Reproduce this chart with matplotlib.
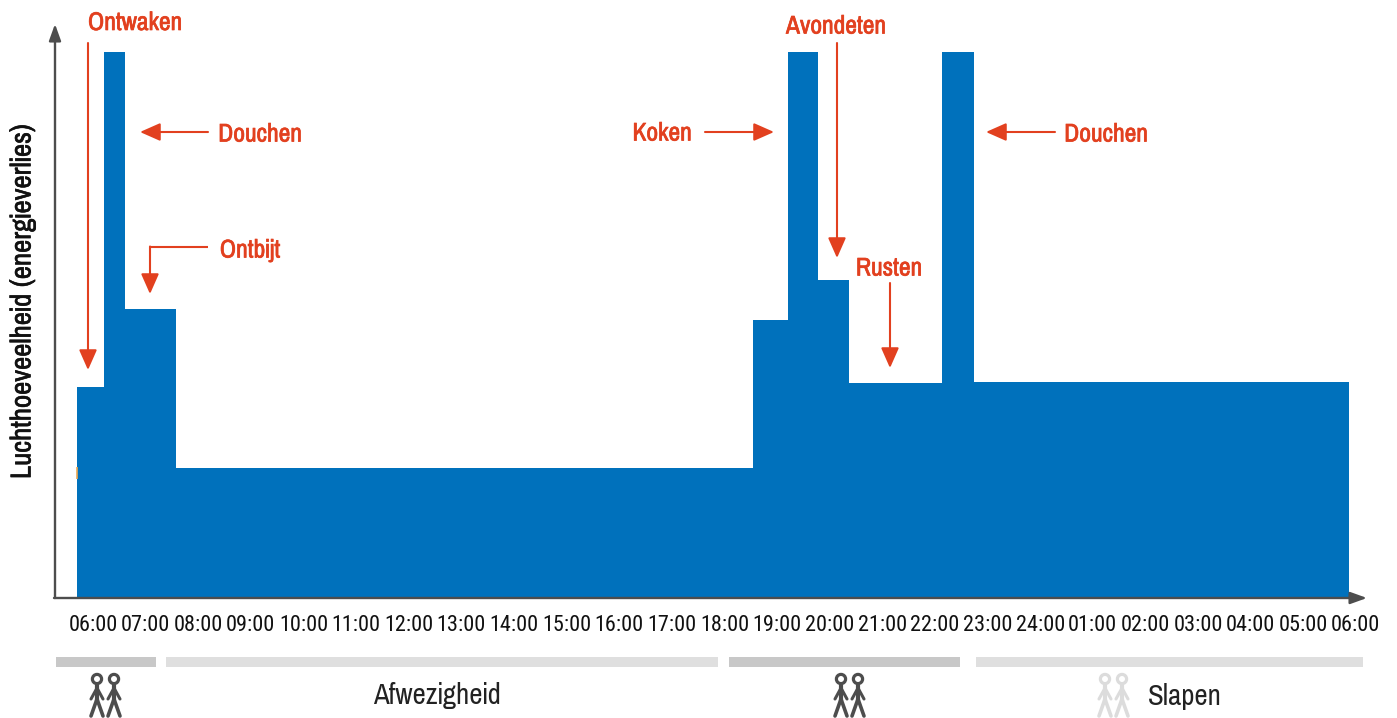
import matplotlib.patheffects as pe
import matplotlib.pyplot as plt
import numpy as np

NARROW = ["Pragati Narrow", "Archivo Narrow", "Liberation Sans", "DejaVu Sans"]
TICK_FONT = ["Roboto Condensed", "Liberation Sans", "DejaVu Sans"]
plt.rcParams["font.family"] = NARROW

# air demand per period, hours since midnight (24+ means next day)
edges = [6.0, 6.51, 6.91, 7.87, 18.75, 19.42, 19.98, 20.57, 22.32, 22.93, 30.0]
air = [38.6, 100, 52.9, 23.8, 50.9, 100, 58.2, 39.4, 100, 39.6]
hour_labels = ["06:00", "07:00", "08:00", "09:00", "10:00", "11:00", "12:00", "13:00", "14:00",
               "15:00", "16:00", "17:00", "18:00", "19:00", "20:00", "21:00", "22:00", "23:00",
               "24:00", "01:00", "02:00", "03:00", "04:00", "05:00", "06:00"]
phase_spans = [(56, 156), (166, 718), (729, 960), (976, 1363)]
phase_colors = ["#c8c8c8", "#dfdfdf", "#c8c8c8", "#dfdfdf"]

BLUE = "#0071bc"
RED = "#e2401f"
DARK = "#4d4d4d"
LIGHT = "#dcdcdc"
W, H = 1397, 718

fig = plt.figure(figsize=(W / 100, H / 100), dpi=100)

ax = fig.add_axes([55 / W, 1 - 598 / H, (1367 - 55) / W, (598 - 24) / H])
ax.set_xlim(5.585, 30.34)
ax.set_ylim(0, 105.1)
ax.stairs(air, edges, fill=True, color=BLUE, linewidth=0)
ax.set_xticks(np.linspace(6.3, 30.13, 25), hour_labels, fontsize=16, color="#111111",
              family=TICK_FONT)
ax.tick_params(axis="x", length=0, pad=12)
ax.set_yticks([])
for side in ["top", "right", "left", "bottom"]:
    ax.spines[side].set_visible(False)
ax.patch.set_alpha(0)

# overlay in pixel units for the arrows, captions and the strip underneath
ov = fig.add_axes([0, 0, 1, 1])
ov.set_xlim(0, W)
ov.set_ylim(H, 0)
ov.axis("off")
ov.patch.set_alpha(0)


def arrow(start, end, color=RED, lw=1.5, style="-|>,head_length=0.95,head_width=0.42", scale=13):
    ov.annotate("", xy=end, xytext=start,
                arrowprops=dict(arrowstyle=style, color=color, lw=lw, mutation_scale=scale,
                                shrinkA=0, shrinkB=0))


def person(cx, color):
    ov.add_patch(plt.Circle((cx, 679), 4.6, fill=False, ec=color, lw=2.3))
    ov.plot([cx, cx], [684, 701], color=color, lw=3, solid_capstyle="butt")
    ov.plot([cx - 6, cx, cx + 6], [699, 688, 699], color=color, lw=2.2, solid_capstyle="round")
    ov.plot([cx - 6, cx, cx + 6], [716, 699, 716], color=color, lw=2.6, solid_capstyle="round")


# axes
axis_head = "-|>,head_length=1.0,head_width=0.36"
arrow((55, 598), (55, 24), color=DARK, lw=1.7, style=axis_head, scale=10)
arrow((54, 598), (1367, 598), color=DARK, lw=1.7, style=axis_head, scale=10)

# small orange trace on the left edge of the first block
ov.plot([76.5, 76.5], [467, 479], color="#eda850", lw=1.2, solid_capstyle="butt")

arrow((88, 43), (88, 370))
arrow((208, 132), (140, 132))
ov.plot([208, 150], [247, 247], color=RED, lw=1.5, solid_capstyle="butt")
arrow((150, 246.5), (150, 294))
arrow((705, 132), (774, 132))
arrow((837, 43), (837, 258))
arrow((890, 283), (890, 368))
arrow((1055, 132), (986, 132))

captions = [("Ontwaken", 135, 20.5), ("Douchen", 260, 132), ("Ontbijt", 250, 248),
            ("Koken", 662, 131), ("Avondeten", 836, 24), ("Rusten", 889, 266),
            ("Douchen", 1106, 132)]
heavier = [pe.withStroke(linewidth=0.5, foreground=RED)]
for label, x, y in captions:
    ov.text(x, y, label, color=RED, fontsize=20, ha="center", va="center_baseline",
            path_effects=heavier)

ov.text(22, 301, "Luchthoeveelheid (energieverlies)", rotation=90, fontsize=22.6,
        color="#111111", ha="center", va="center",
        path_effects=[pe.withStroke(linewidth=0.4, foreground="#111111")])

for (x0, x1), c in zip(phase_spans, phase_colors):
    ov.add_patch(plt.Rectangle((x0, 657), x1 - x0, 10, color=c, lw=0))

for cx in [97, 114, 841, 858]:
    person(cx, DARK)
for cx in [1105, 1122]:
    person(cx, LIGHT)

ov.text(437, 693, "Afwezigheid", fontsize=22.6, color="#222222", ha="center", va="center_baseline")
ov.text(1185, 694, "Slapen", fontsize=22.6, color="#222222", ha="center", va="center_baseline")

fig.savefig("out.png", dpi=100)
